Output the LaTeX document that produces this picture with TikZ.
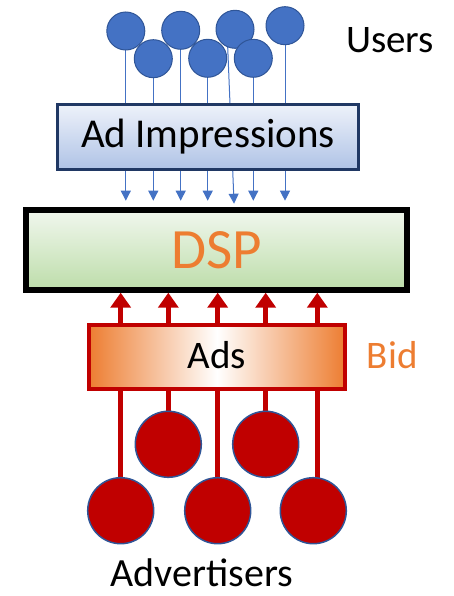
\documentclass[tikz,border=0pt]{standalone}
\usepackage{fontspec}
\setmainfont{Carlito}
\usetikzlibrary{arrows.meta,backgrounds}
\definecolor{ublue}{HTML}{4472C4}
\definecolor{udark}{HTML}{2F5597}
\definecolor{navy}{HTML}{203864}
\definecolor{dred}{HTML}{C00000}
\definecolor{orng}{HTML}{ED7D31}
\definecolor{imptop}{HTML}{EEF2FA}
\definecolor{impbot}{HTML}{AFC3E6}
\definecolor{dsptop}{HTML}{F1F7EE}
\definecolor{dspbot}{HTML}{BDDDAA}
\begin{document}
\begin{tikzpicture}[x=1pt,y=-1pt,
  user/.style={circle, fill=ublue, draw=udark, line width=1pt, minimum size=38pt, inner sep=0pt},
  advc/.style={circle, fill=dred, draw=udark, line width=1.5pt, minimum size=66pt, inner sep=0pt},
  uline/.style={ublue, line width=1pt, -{Triangle[width=10pt,length=10pt]}, shorten >=6pt},
  rline/.style={dred, line width=5pt, -{Triangle[width=20pt,length=15pt]}},
  lbl/.style={inner sep=0pt, anchor=base}
]
\useasboundingbox (0,0) rectangle (453,596);
% users
\node[user] (u1) at (125.8,31) {};
\node[user] (u3) at (180.7,30.3) {};
\node[user] (u5) at (235,29.3) {};
\node[user] (u7) at (285,25.7) {};
\node[user] (u2) at (153.3,58.7) {};
\node[user] (u4) at (207.7,58.3) {};
\node[user] (u6) at (253.3,58.3) {};
% boxes
\node[draw=navy, line width=3pt, minimum width=301pt, minimum height=65pt, inner sep=0pt,
      top color=imptop, bottom color=impbot, font=\fontsize{41}{41}\selectfont] (imp) at (208,136.7) {Ad Impressions};
\node[draw=black, line width=6pt, minimum width=380.7pt, minimum height=80pt, inner sep=0pt,
      top color=dsptop, bottom color=dspbot, text=orng, font=\fontsize{57}{57}\selectfont] (dsp) at (216.7,249.7) {DSP};
\node[draw=dred, line width=4pt, minimum width=256.6pt, minimum height=63.7pt, inner sep=0pt,
      left color=orng, right color=orng, middle color=white] (ads) at (217,357.2) {};
\node[lbl, font=\fontsize{39}{39}\selectfont] (adst) at (217,368.3) {Ads};
% advertisers
\node[advc] (a2) at (168.3,444.3) {};
\node[advc] (a4) at (265.7,444.3) {};
\node[advc] (a1) at (120.7,510.7) {};
\node[advc] (a3) at (217.7,510.7) {};
\node[advc] (a5) at (313.3,510.7) {};
\coordinate (a5t) at (317.3,510.7);
\coordinate (u5t) at (227,30);
\coordinate (u5b) at (234.3,209.7);
% labels
\node[lbl, font=\fontsize{39}{39}\selectfont] (users) at (390,53) {Users};
\node[lbl, anchor=base west, text=orng, font=\fontsize{39}{39}\selectfont] (bid) at (366.7,368.3) {Bid};
\node[lbl, font=\fontsize{40}{40}\selectfont] (advt) at (201.7,586.5) {Advertisers};
% connectors (behind)
\begin{scope}[on background layer]
\draw[uline] (u1.center) -- (u1.center |- dsp.north);
\draw[uline] (u2.center) -- (u2.center |- dsp.north);
\draw[uline] (u3.center) -- (u3.center |- dsp.north);
\draw[uline] (u4.center) -- (u4.center |- dsp.north);
\draw[uline] (u5t) -- (u5b);
\draw[uline] (u6.center) -- (u6.center |- dsp.north);
\draw[uline] (u7.center) -- (u7.center |- dsp.north);
\draw[rline] (a1.center) -- (a1.center |- dsp.south);
\draw[rline] (a2.center) -- (a2.center |- dsp.south);
\draw[rline] (a3.center) -- (a3.center |- dsp.south);
\draw[rline] (a4.center) -- (a4.center |- dsp.south);
\draw[rline] (a5t) -- (a5t |- dsp.south);
\end{scope}
\end{tikzpicture}
\end{document}
